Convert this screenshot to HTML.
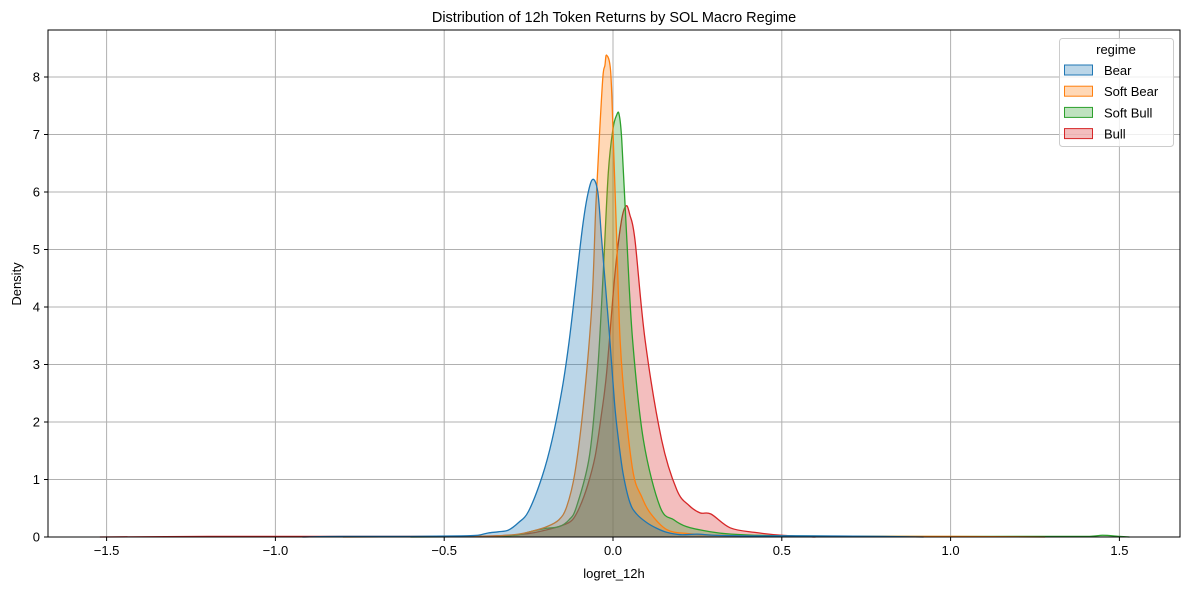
<!DOCTYPE html>
<html><head><meta charset="utf-8"><style>
body{margin:0;background:#fff;}
svg{display:block;font-family:"Liberation Sans","DejaVu Sans",sans-serif;}
</style></head><body>
<svg id="chart" width="1189" height="590">
<text x="614" y="22" text-anchor="middle" font-size="14.5" fill="#000">Distribution of 12h Token Returns by SOL Macro Regime</text>
<g id="grid"></g><g id="marks"></g><g id="axes"></g>
<text x="614" y="578" text-anchor="middle" font-size="13">logret_12h</text>
<text transform="translate(21,284) rotate(-90)" text-anchor="middle" font-size="13">Density</text>
<g id="legend"></g>
</svg>
<script>
const seriesNames=["Bear","Soft Bear","Soft Bull","Bull"];
const colors=["#1f77b4","#ff7f0e","#2ca02c","#d62728"];
const bearX=[-0.92,-0.8,-0.6,-0.45,-0.4,-0.37,-0.34,-0.31,-0.28,-0.25,-0.21,-0.18,-0.15,-0.13,-0.11,-0.09,-0.075,-0.06,-0.045,-0.034,-0.02,-0.009,0.005,0.016,0.03,0.05,0.07,0.1,0.13,0.16,0.2,0.25,0.3,0.4,0.6,0.8,0.92];
const bearY=[0,0.01,0.01,0.02,0.03,0.07,0.09,0.12,0.25,0.45,1.05,1.7,2.6,3.4,4.4,5.4,5.95,6.22,6.0,5.2,4.2,3.4,2.3,1.7,1.1,0.6,0.4,0.25,0.15,0.08,0.04,0.05,0.03,0.02,0.02,0.01,0];
const softBearX=[-0.8,-0.5,-0.35,-0.28,-0.24,-0.196,-0.16,-0.137,-0.113,-0.088,-0.063,-0.051,-0.04,-0.03,-0.024,-0.019,-0.007,0.001,0.011,0.021,0.036,0.06,0.085,0.11,0.159,0.22,0.3,0.5,0.8,1.0,1.28];
const softBearY=[0,0.01,0.02,0.05,0.1,0.18,0.3,0.53,1.11,2.27,4.0,5.74,7.0,8.0,8.2,8.38,8.1,6.9,5.17,3.43,2.27,1.11,0.7,0.42,0.13,0.06,0.03,0.01,0.01,0.01,0];
const softBullX=[-0.6,-0.35,-0.28,-0.24,-0.2,-0.16,-0.13,-0.108,-0.07,-0.046,-0.029,-0.014,0.0,0.011,0.018,0.026,0.041,0.058,0.09,0.139,0.18,0.218,0.28,0.35,0.5,0.8,1.2,1.4,1.45,1.5,1.53];
const softBullY=[0,0.01,0.04,0.1,0.15,0.18,0.3,0.53,1.4,2.85,4.59,6.33,7.1,7.34,7.35,6.9,5.17,3.43,1.69,0.53,0.3,0.18,0.1,0.05,0.02,0.01,0.01,0.01,0.03,0.01,0];
const bullX=[-1.52,-1.2,-0.9,-0.6,-0.35,-0.25,-0.2,-0.151,-0.12,-0.098,-0.075,-0.053,-0.035,-0.019,0.006,0.025,0.039,0.05,0.065,0.095,0.144,0.189,0.225,0.258,0.29,0.347,0.42,0.5,0.6];
const bullY=[0,0.01,0.01,0.01,0.02,0.06,0.12,0.2,0.3,0.53,0.9,1.4,2.1,2.85,4.59,5.5,5.76,5.6,5.17,3.43,1.69,0.82,0.55,0.42,0.4,0.16,0.08,0.03,0];
const seriesX=[bearX,softBearX,softBullX,bullX];
const seriesY=[bearY,softBearY,softBullY,bullY];
const xTicks=[-1.5,-1.0,-0.5,0.5,1.0,1.5];
const xTickLabels=["\u22121.5","\u22121.0","\u22120.5","0.5","1.0","1.5"];
const yTicks=[0,1,2,3,4,5,6,7,8];
const NS="http://www.w3.org/2000/svg";
const L=48,R=1180,T=30,B=537;
const xS=v=>613+v*337.6;
const yS=v=>537-v*57.5;
function mk(tag,attrs,parent){const e=document.createElementNS(NS,tag);for(const k in attrs)e.setAttribute(k,attrs[k]);parent.appendChild(e);return e;}
const grid=document.getElementById('grid'),axes=document.getElementById('axes'),marks=document.getElementById('marks');
const allX=[xTicks[0],xTicks[1],xTicks[2],0,xTicks[3],xTicks[4],xTicks[5]];
const allXL=[xTickLabels[0],xTickLabels[1],xTickLabels[2],"0.0",xTickLabels[3],xTickLabels[4],xTickLabels[5]];
allX.forEach((v,i)=>{
 const g=mk('line',{x1:xS(v),x2:xS(v),y1:T,y2:B,stroke:'#b0b0b0','stroke-width':1},grid);
 
 
 mk('line',{x1:xS(v),x2:xS(v),y1:B,y2:B+4,stroke:'#000'},axes);
 const t=mk('text',{x:xS(v),y:B+18,'text-anchor':'middle','font-size':13},axes);
 t.textContent=allXL[i];
 
 
});
yTicks.forEach(v=>{
 if(v>0){const g=mk('line',{x1:L,x2:R,y1:yS(v),y2:yS(v),stroke:'#b0b0b0','stroke-width':1},grid);
 
 }
 mk('line',{x1:L-4,x2:L,y1:yS(v),y2:yS(v),stroke:'#000'},axes);
 const t=mk('text',{x:L-8,y:yS(v)+4.5,'text-anchor':'end','font-size':13},axes);
 t.textContent=String(v);
 
 
});
const frame=mk('rect',{x:L,y:T,width:R-L,height:B-T,fill:'none',stroke:'#000','stroke-width':1},axes);


function pathFor(xs,ys){
 const p=xs.map((x,i)=>[xS(x),yS(ys[i])]);
 let d='M'+p[0][0]+','+p[0][1];
 for(let i=0;i<p.length-1;i++){
  const p0=p[Math.max(0,i-1)],p1=p[i],p2=p[i+1],p3=p[Math.min(p.length-1,i+2)];
  let c1y=p1[1]+(p2[1]-p0[1])/6,c2y=p2[1]-(p3[1]-p1[1])/6;
  c1y=Math.min(c1y,B);c2y=Math.min(c2y,B);
  d+=` C${p1[0]+(p2[0]-p0[0])/6},${c1y} ${p2[0]-(p3[0]-p1[0])/6},${c2y} ${p2[0]},${p2[1]}`;
 }
 return d;
}
for(let s=seriesX.length-1;s>=0;s--){
 const xs=seriesX[s],ys=seriesY[s];
 const d=pathFor(xs,ys);
 const f=mk('path',{d:d+` L${xS(xs[xs.length-1])},${B} L${xS(xs[0])},${B} Z`,fill:colors[s],'fill-opacity':0.3,stroke:'none'},marks);
 
 
 const l=mk('path',{d:d,fill:'none',stroke:colors[s],'stroke-width':1.3},marks);
 
 
}
const lg=document.getElementById('legend');
mk('rect',{x:1059.5,y:38.5,width:114,height:108,rx:3,fill:'#fff','fill-opacity':0.8,stroke:'#ccc'},lg);
const lt=mk('text',{x:1116,y:54,'text-anchor':'middle','font-size':13},lg);
lt.textContent='regime';


seriesNames.forEach((n,i)=>{
 const y=70+i*21.2;
 const r=mk('rect',{x:1064.5,y:y-5,width:28,height:10,fill:colors[i],'fill-opacity':0.3,stroke:colors[i],'stroke-width':1},lg);
 
 
 const t=mk('text',{x:1104,y:y+5,'font-size':13},lg);
 t.textContent=n;
 
 
});
</script>
</body></html>
